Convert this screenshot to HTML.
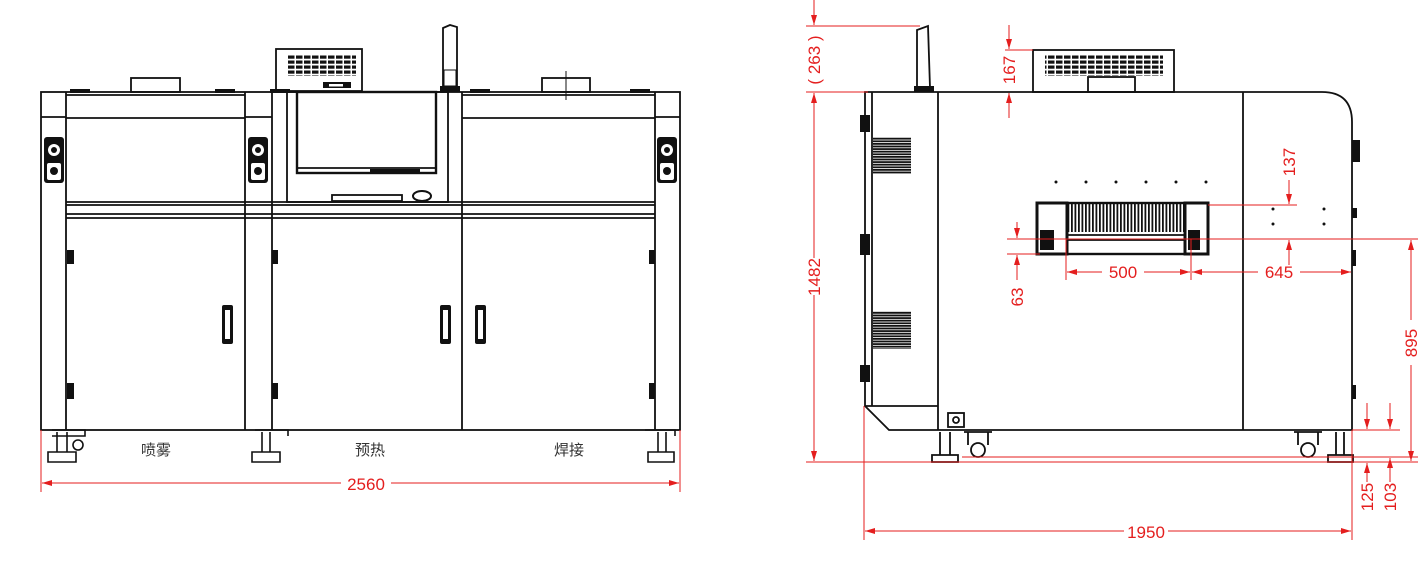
<!DOCTYPE html>
<html><head><meta charset="utf-8"><style>
html,body{margin:0;padding:0;background:#fff;}
svg{display:block;}
text{font-family:"Liberation Sans","Noto Sans CJK SC",sans-serif;}
</style></head><body>
<svg width="1418" height="563" viewBox="0 0 1418 563" xmlns="http://www.w3.org/2000/svg">
<defs>
<marker id="a" viewBox="0 0 10 6" refX="10" refY="3" markerWidth="10" markerHeight="6" orient="auto-start-reverse" markerUnits="userSpaceOnUse"><path d="M0,0 L10,3 L0,6 z" fill="#e41e1e"/></marker>
<pattern id="vent" width="8" height="5" patternUnits="userSpaceOnUse"><rect x="0" y="0.5" width="6.5" height="3.2" fill="#111"/></pattern>
<pattern id="fins" width="3.5" height="10" patternUnits="userSpaceOnUse"><rect x="0" y="0" width="1.8" height="10" fill="#111"/></pattern>
<pattern id="louv" width="10" height="2.6" patternUnits="userSpaceOnUse"><rect x="0" y="0" width="10" height="1.8" fill="#111"/></pattern>
</defs>

<!-- ============ LEFT (FRONT) VIEW ============ -->
<g fill="none" stroke="#111" stroke-width="1.8">
  <rect x="41" y="92" width="639" height="338"/>
  <line x1="66" y1="92" x2="66" y2="430"/>
  <line x1="245" y1="92" x2="245" y2="430"/>
  <line x1="272" y1="92" x2="272" y2="430"/>
  <line x1="655" y1="92" x2="655" y2="430"/>
  <line x1="41" y1="117" x2="66" y2="117"/>
  <line x1="245" y1="117" x2="272" y2="117"/>
  <line x1="655" y1="117" x2="680" y2="117"/>
  <line x1="66" y1="95" x2="245" y2="95"/>
  <line x1="66" y1="118" x2="245" y2="118"/>
  <line x1="462" y1="95" x2="655" y2="95"/>
  <line x1="462" y1="118" x2="655" y2="118"/>
  <line x1="66" y1="202" x2="655" y2="202"/>
  <line x1="66" y1="205" x2="655" y2="205"/>
  <line x1="66" y1="214" x2="655" y2="214"/>
  <line x1="66" y1="218" x2="655" y2="218"/>
  <line x1="462" y1="92" x2="462" y2="430"/>
  <rect x="287" y="92" width="161" height="110"/>
  <rect x="297" y="92" width="139" height="81" stroke-width="2.4"/>
  <line x1="297" y1="168" x2="436" y2="168"/>
  <rect x="332" y="195" width="70" height="6"/>
  <ellipse cx="422" cy="196" rx="9" ry="5" stroke-width="2"/>
  <rect x="276" y="49" width="86" height="42"/>
  <rect x="131" y="78" width="49" height="14"/>
  <rect x="542" y="78" width="48" height="14"/>
  <line x1="566" y1="71" x2="566" y2="100" stroke-width="1"/>
  <path d="M443,88 L443,28 L450,25 L457,27 L457,88"/>
</g>
<rect x="440" y="86" width="20" height="6" fill="#111"/>
<rect x="444" y="70" width="12" height="16" fill="none" stroke="#111" stroke-width="1"/>
<rect x="288" y="54" width="68" height="22" fill="url(#vent)"/>
<rect x="323" y="82" width="28" height="6" fill="#111"/>
<rect x="329" y="84" width="14" height="2.5" fill="#fff"/>
<g fill="#111">
  <rect x="70" y="89" width="20" height="4"/><rect x="215" y="89" width="20" height="4"/>
  <rect x="270" y="89" width="20" height="4"/><rect x="470" y="89" width="20" height="4"/>
  <rect x="630" y="89" width="20" height="4"/>
  <rect x="370" y="169" width="50" height="3"/>
</g>
<g>
  <rect x="44" y="137" width="20" height="46" rx="3" fill="#111"/>
  <circle cx="54" cy="150" r="6" fill="#fff"/><circle cx="54" cy="150" r="3" fill="#111"/>
  <rect x="47" y="163" width="14" height="17" rx="2" fill="#fff"/><circle cx="54" cy="171" r="4" fill="#111"/>
  <rect x="248" y="137" width="20" height="46" rx="3" fill="#111"/>
  <circle cx="258" cy="150" r="6" fill="#fff"/><circle cx="258" cy="150" r="3" fill="#111"/>
  <rect x="251" y="163" width="14" height="17" rx="2" fill="#fff"/><circle cx="258" cy="171" r="4" fill="#111"/>
  <rect x="657" y="137" width="20" height="46" rx="3" fill="#111"/>
  <circle cx="667" cy="150" r="6" fill="#fff"/><circle cx="667" cy="150" r="3" fill="#111"/>
  <rect x="660" y="163" width="14" height="17" rx="2" fill="#fff"/><circle cx="667" cy="171" r="4" fill="#111"/>
</g>
<g fill="#111">
  <rect x="222" y="305" width="11" height="39" rx="2"/><rect x="440" y="305" width="11" height="39" rx="2"/><rect x="475" y="305" width="11" height="39" rx="2"/>
  <rect x="67" y="250" width="7" height="14"/><rect x="67" y="383" width="7" height="16"/>
  <rect x="272" y="250" width="6" height="14"/><rect x="272" y="383" width="6" height="16"/>
  <rect x="649" y="250" width="6" height="14"/><rect x="649" y="383" width="6" height="16"/>
</g>
<g fill="#fff"><rect x="225" y="310" width="5" height="29"/><rect x="443" y="310" width="5" height="29"/><rect x="478" y="310" width="5" height="29"/></g>
<g fill="none" stroke="#111" stroke-width="1.6">
  <path d="M57,432 L57,452 M67,432 L67,452 M48,452 L76,452 L76,462 L48,462 Z M52,430 L85,430 L85,436 L52,436"/>
  <circle cx="78" cy="445" r="5"/>
  <path d="M262,432 L262,452 M270,432 L270,452 M252,452 L280,452 L280,462 L252,462 Z M255,430 L288,430 L288,436"/>
  <path d="M658,432 L658,452 M666,432 L666,452 M648,452 L674,452 L674,462 L648,462 Z M645,430 L675,430 L675,436"/>
</g>
<g font-size="15" fill="#333" text-anchor="middle">
  <text x="156" y="455">喷雾</text>
  <text x="370" y="455">预热</text>
  <text x="569" y="455">焊接</text>
</g>
<g stroke="#e41e1e" stroke-width="1" fill="none">
  <line x1="41" y1="430" x2="41" y2="492"/>
  <line x1="680" y1="430" x2="680" y2="492"/>
  <line x1="42" y1="483" x2="341" y2="483" marker-start="url(#a)"/>
  <line x1="391" y1="483" x2="679" y2="483" marker-end="url(#a)"/>
</g>
<text x="366" y="490" font-size="17" fill="#e41e1e" text-anchor="middle">2560</text>

<!-- ============ RIGHT (SIDE) VIEW ============ -->
<g fill="none" stroke="#111" stroke-width="1.8">
  <path d="M865,92 L1322,92 Q1352,92 1352,122 L1352,430 L889,430 L865,406 Z"/>
  <line x1="872" y1="92" x2="872" y2="406"/>
  <line x1="865" y1="406" x2="938" y2="406"/>
  <line x1="938" y1="92" x2="938" y2="430"/>
  <line x1="1243" y1="92" x2="1243" y2="430"/>
  <rect x="1033" y="50" width="141" height="42"/>
  <rect x="1088" y="77" width="47" height="15"/>
  <path d="M917,88 L917,30 L928,26 L930,88"/>
  <rect x="1037" y="203" width="171" height="51" stroke-width="2.4"/>
  <line x1="1068" y1="235" x2="1185" y2="235"/>
  <line x1="1068" y1="240" x2="1185" y2="240"/>
  <rect x="948" y="413" width="16" height="14"/>
  <circle cx="956" cy="420" r="3"/>
  <path d="M940,432 L940,455 M950,432 L950,455 M932,455 L958,455 L958,462 L932,462 Z"/>
  <path d="M964,432 L992,432 M968,432 L968,445 M988,432 L988,445"/>
  <circle cx="978" cy="450" r="7"/>
  <path d="M1294,432 L1322,432 M1298,432 L1298,445 M1318,432 L1318,445"/>
  <circle cx="1308" cy="450" r="7"/>
  <path d="M1336,432 L1336,455 M1344,432 L1344,455 M1328,455 L1353,455 L1353,462 L1328,462 Z"/>
</g>
<rect x="914" y="86" width="20" height="6" fill="#111"/>
<rect x="1045" y="54" width="118" height="22" fill="url(#vent)"/>
<rect x="873" y="137" width="38" height="37" fill="url(#louv)"/>
<rect x="873" y="311" width="38" height="38" fill="url(#louv)"/>
<rect x="1068" y="204" width="117" height="28" fill="url(#fins)"/>
<g fill="#111">
  <rect x="1037" y="203" width="30" height="51" fill="none" stroke="#111" stroke-width="3"/>
  <rect x="1185" y="203" width="23" height="51" fill="none" stroke="#111" stroke-width="3"/>
  <rect x="1040" y="230" width="14" height="20"/><rect x="1188" y="230" width="12" height="20"/>
  <rect x="860" y="115" width="10" height="17"/><rect x="860" y="234" width="10" height="21"/><rect x="860" y="365" width="10" height="17"/>
  <rect x="1352" y="140" width="8" height="22"/><rect x="1352" y="208" width="5" height="10"/><rect x="1352" y="250" width="4" height="16"/><rect x="1352" y="385" width="4" height="14"/>
  <circle cx="1056" cy="182" r="1.5"/><circle cx="1086" cy="182" r="1.5"/><circle cx="1116" cy="182" r="1.5"/>
  <circle cx="1146" cy="182" r="1.5"/><circle cx="1176" cy="182" r="1.5"/><circle cx="1206" cy="182" r="1.5"/>
  <circle cx="1273" cy="209" r="1.5"/><circle cx="1324" cy="209" r="1.5"/><circle cx="1273" cy="224" r="1.5"/><circle cx="1324" cy="224" r="1.5"/>
</g>
<g stroke="#e41e1e" stroke-width="1" fill="none">
  <line x1="806" y1="26" x2="920" y2="26"/>
  <line x1="806" y1="92" x2="868" y2="92"/>
  <line x1="806" y1="462" x2="1418" y2="462"/>
  <line x1="962" y1="457" x2="1418" y2="457"/>
  <line x1="814" y1="0" x2="814" y2="25" marker-end="url(#a)"/>
  <line x1="814" y1="93" x2="814" y2="258" marker-start="url(#a)"/>
  <line x1="814" y1="295" x2="814" y2="461" marker-end="url(#a)"/>
  <line x1="1005" y1="50" x2="1033" y2="50"/>
  <line x1="1009" y1="25" x2="1009" y2="49" marker-end="url(#a)"/>
  <line x1="1009" y1="93" x2="1009" y2="118" marker-start="url(#a)"/>
  <line x1="1007" y1="239" x2="1418" y2="239"/>
  <line x1="1007" y1="254" x2="1040" y2="254"/>
  <line x1="1017" y1="222" x2="1017" y2="238" marker-end="url(#a)"/>
  <line x1="1017" y1="255" x2="1017" y2="280" marker-start="url(#a)"/>
  <line x1="1066" y1="239" x2="1066" y2="280"/>
  <line x1="1191" y1="239" x2="1191" y2="280"/>
  <line x1="1067" y1="272" x2="1102" y2="272" marker-start="url(#a)"/>
  <line x1="1144" y1="272" x2="1190" y2="272" marker-end="url(#a)"/>
  <line x1="1192" y1="272" x2="1258" y2="272" marker-start="url(#a)"/>
  <line x1="1300" y1="272" x2="1351" y2="272" marker-end="url(#a)"/>
  <line x1="1208" y1="205" x2="1297" y2="205"/>
  <line x1="1289" y1="180" x2="1289" y2="204" marker-end="url(#a)"/>
  <line x1="1289" y1="240" x2="1289" y2="265" marker-start="url(#a)"/>
  <line x1="1411" y1="240" x2="1411" y2="320" marker-start="url(#a)"/>
  <line x1="1411" y1="365" x2="1411" y2="461" marker-end="url(#a)"/>
  <line x1="1352" y1="430" x2="1400" y2="430"/>
  <line x1="1367" y1="403" x2="1367" y2="429" marker-end="url(#a)"/>
  <line x1="1390" y1="403" x2="1390" y2="429" marker-end="url(#a)"/>
  <line x1="1367" y1="463" x2="1367" y2="482" marker-start="url(#a)"/>
  <line x1="1390" y1="458" x2="1390" y2="482" marker-start="url(#a)"/>
  <line x1="864" y1="406" x2="864" y2="540"/>
  <line x1="1352" y1="430" x2="1352" y2="540"/>
  <line x1="865" y1="531" x2="1124" y2="531" marker-start="url(#a)"/>
  <line x1="1168" y1="531" x2="1351" y2="531" marker-end="url(#a)"/>
</g>
<g font-size="17" fill="#e41e1e" text-anchor="middle">
  <text x="1123" y="278">500</text>
  <text x="1279" y="278">645</text>
  <text x="1146" y="538">1950</text>
  <text transform="translate(820,277) rotate(-90)">1482</text>
  <text transform="translate(820,60) rotate(-90)">( 263 )</text>
  <text transform="translate(1015,70) rotate(-90)">167</text>
  <text transform="translate(1023,297) rotate(-90)">63</text>
  <text transform="translate(1295,162) rotate(-90)">137</text>
  <text transform="translate(1417,343) rotate(-90)">895</text>
  <text transform="translate(1373,497) rotate(-90)">125</text>
  <text transform="translate(1396,497) rotate(-90)">103</text>
</g>
</svg>
</body></html>
